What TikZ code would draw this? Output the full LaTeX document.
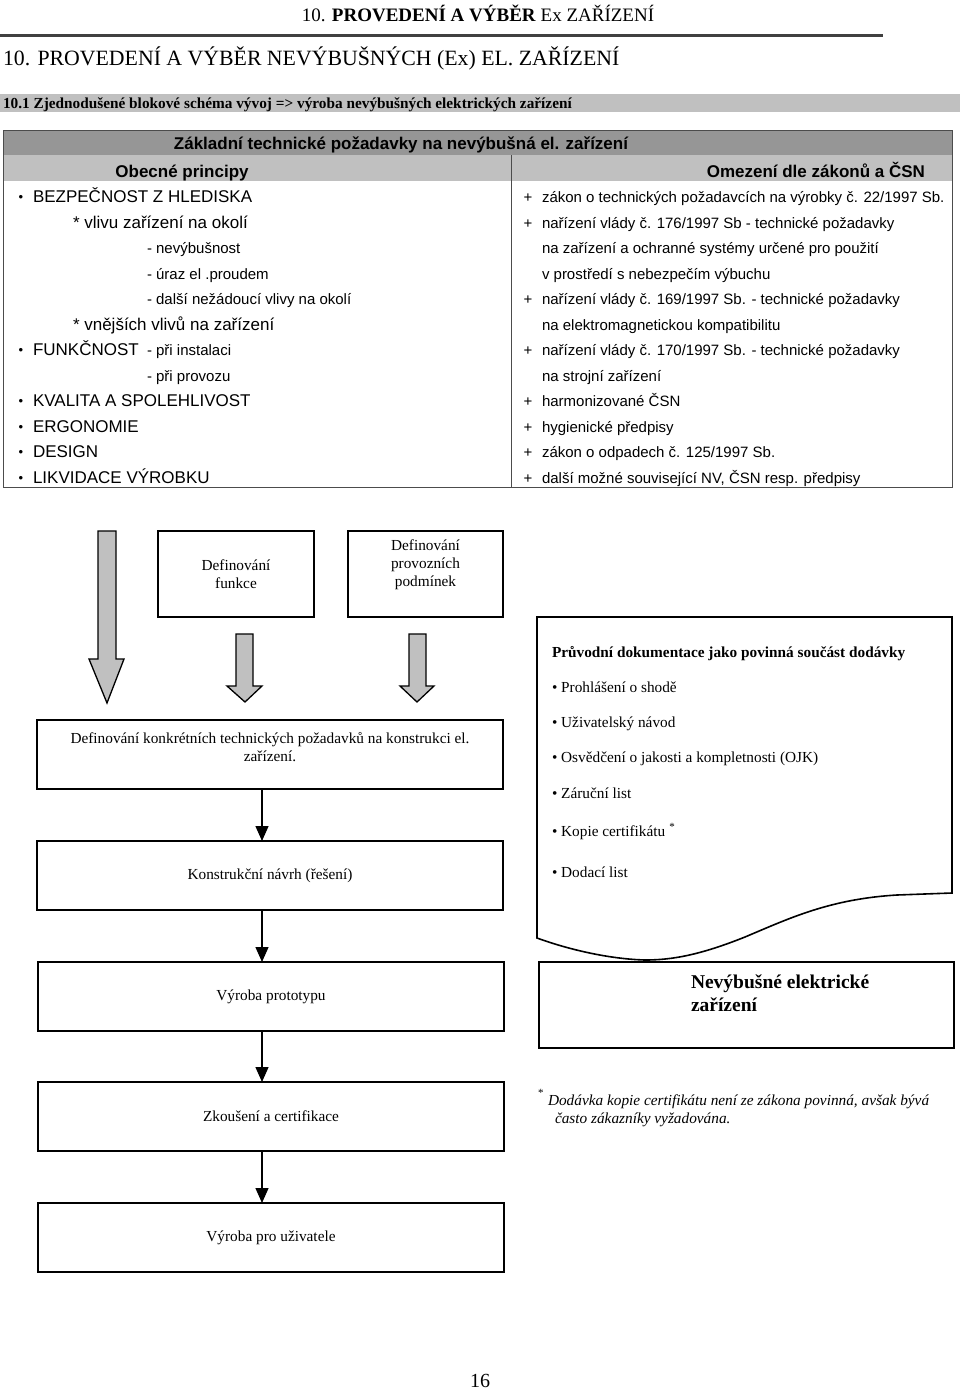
\documentclass[tikz,border=0pt]{standalone}
\usepackage{fontspec}
\setmainfont{Liberation Serif}
\newfontfamily\arial{Liberation Sans}
\usetikzlibrary{arrows.meta}
\definecolor{hdark}{RGB}{150,150,150}
\definecolor{hlight}{RGB}{192,192,192}
\definecolor{bargray}{RGB}{192,192,192}
\definecolor{arrgray}{RGB}{192,192,192}
\definecolor{rulegray}{RGB}{64,64,64}
\begin{document}
\begin{tikzpicture}[x=1pt,y=-1pt,
  every node/.style={inner sep=0pt, outer sep=0pt},
  A/.style={font=\arial\fontsize{17}{20}\selectfont, anchor=base west},
  Ab/.style={font=\arial\fontsize{13}{15}\selectfont, anchor=base},
  As/.style={font=\arial\fontsize{15}{18}\selectfont, anchor=base west},
  AB/.style={font=\arial\bfseries\fontsize{17}{20}\selectfont},
  T/.style={font=\fontsize{15.3}{18}\selectfont, align=center},
  D/.style={font=\fontsize{15.3}{18}\selectfont, anchor=base west},
  box/.style={draw, line width=1.6pt},
  tbl/.style={draw=black!70, line width=1pt},
  blockarrow/.style={fill=arrgray, draw=black, line width=1.3pt, line join=miter},
  conn/.style={line width=1.3pt, -{Triangle[length=15pt,width=13pt]}},
]
\useasboundingbox (0,0) rectangle (960,1390);

% ---------- page header ----------
\node[anchor=base] (hdr) at (478,21) {\fontsize{19}{22}\selectfont 10. \textbf{PROVEDENÍ A VÝBĚR} Ex ZAŘÍZENÍ};
\draw[rulegray, line width=3pt] (0,35) -- (883,35);
\node[anchor=base west] (title) at (3,65) {\fontsize{21.8}{26}\selectfont 10. PROVEDENÍ A VÝBĚR NEVÝBUŠNÝCH (Ex) EL. ZAŘÍZENÍ};
\fill[bargray] (0,94) rectangle (960,112);
\node[anchor=base west] (sub) at (3,108) {\fontsize{15.3}{17}\selectfont\bfseries 10.1 Zjednodušené blokové schéma vývoj => výroba nevýbušných elektrických zařízení};

% ---------- table ----------
\fill[hdark] (3,130) rectangle (952,155);
\fill[hlight] (3,155) rectangle (952,181);
\draw[tbl] (3,130) rectangle (952,487);
\draw[tbl] (511,155) -- (511,487);
\node[AB, anchor=base] (th1) at (401,149) {Základní technické požadavky na nevýbušná el. zařízení};
\node[AB, anchor=base] (th2) at (182,177) {Obecné principy};
\node[AB, anchor=base east] (th3) at (925,177) {Omezení dle zákonů a ČSN};

% left column
\node[Ab] (b1) at (21,201.5) {•};
\node[A] (l1) at (33,202.5) {BEZPEČNOST Z HLEDISKA};
\node[A] (l2) at (73,228) {* vlivu zařízení na okolí};
\node[As] (l3) at (147,253.5) {- nevýbušnost};
\node[As] (l4) at (147,279) {- úraz el .proudem};
\node[As] (l5) at (147,304.5) {- další nežádoucí vlivy na okolí};
\node[A] (l6) at (73,330) {* vnějších vlivů na zařízení};
\node[Ab] (b2) at (21,354.5) {•};
\node[A] (l7) at (33,355.5) {FUNKČNOST};
\node[As] (l7b) at (147,355.5) {- při instalaci};
\node[As] (l8) at (147,381) {- při provozu};
\node[Ab] (b3) at (21,405.5) {•};
\node[A] (l9) at (33,406.5) {KVALITA A SPOLEHLIVOST};
\node[Ab] (b4) at (21,431) {•};
\node[A] (l10) at (33,432) {ERGONOMIE};
\node[Ab] (b5) at (21,456.5) {•};
\node[A] (l11) at (33,457.5) {DESIGN};
\node[Ab] (b6) at (21,482) {•};
\node[A] (l12) at (33,483) {LIKVIDACE VÝROBKU};

% right column
\node[As, anchor=base] (p1) at (528,202.5) {+};
\node[As] (r1) at (542,202.5) {zákon o technických požadavcích na výrobky č. 22/1997 Sb.};
\node[As, anchor=base] (p2) at (528,228) {+};
\node[As] (r2) at (542,228) {nařízení vlády č. 176/1997 Sb - technické požadavky};
\node[As] (r3) at (542,253.5) {na zařízení a ochranné systémy určené pro použití};
\node[As] (r4) at (542,279) {v prostředí s nebezpečím výbuchu};
\node[As, anchor=base] (p5) at (528,304.5) {+};
\node[As] (r5) at (542,304.5) {nařízení vlády č. 169/1997 Sb. - technické požadavky};
\node[As] (r6) at (542,330) {na elektromagnetickou kompatibilitu};
\node[As, anchor=base] (p7) at (528,355.5) {+};
\node[As] (r7) at (542,355.5) {nařízení vlády č. 170/1997 Sb. - technické požadavky};
\node[As] (r8) at (542,381) {na strojní zařízení};
\node[As, anchor=base] (p9) at (528,406.5) {+};
\node[As] (r9) at (542,406.5) {harmonizované ČSN};
\node[As, anchor=base] (p10) at (528,432) {+};
\node[As] (r10) at (542,432) {hygienické předpisy};
\node[As, anchor=base] (p11) at (528,457.5) {+};
\node[As] (r11) at (542,457.5) {zákon o odpadech č. 125/1997 Sb.};
\node[As, anchor=base] (p12) at (528,483) {+};
\node[As] (r12) at (542,483) {další možné související NV, ČSN resp. předpisy};

% ---------- flowchart ----------
\node[box, T, minimum width=156pt, minimum height=86pt] (fun) at (236,574) {Definování\\funkce};
\node[box, minimum width=155pt, minimum height=86pt] (prov) at (425.5,574) {};
\node[T] (provt) at (425.5,565) {Definování\\provozních\\podmínek};

% block arrows
\draw[blockarrow] (98,531) -- (116,531) -- (116,659) -- (124,659) -- (107,703) -- (89,659) -- (98,659) -- cycle;
\draw[blockarrow] (236,634) -- (253,634) -- (253,686) -- (262,686) -- (245,702) -- (227,686) -- (236,686) -- cycle;
\draw[blockarrow] (409,634) -- (426,634) -- (426,686) -- (434,686) -- (417,702) -- (400,686) -- (409,686) -- cycle;

\node[box, minimum width=466pt, minimum height=69pt] (konk) at (270,754.5) {};
\node[T] (konkt) at (270,747.5) {Definování konkrétních technických požadavků na konstrukci el.\\zařízení.};
\node[box, T, minimum width=466pt, minimum height=69pt] (navrh) at (270,875.5) {Konstrukční návrh (řešení)};
\node[box, T, minimum width=466pt, minimum height=69pt] (proto) at (271,996.5) {Výroba prototypu};
\node[box, T, minimum width=466pt, minimum height=69pt] (zkous) at (271,1116.5) {Zkoušení a certifikace};
\node[box, T, minimum width=466pt, minimum height=69pt] (uziv) at (271,1237.5) {Výroba pro uživatele};

\coordinate (ax) at (262,0);
\draw[conn] (ax |- konk.south) -- (ax |- navrh.north);
\draw[conn] (ax |- navrh.south) -- (ax |- proto.north);
\draw[conn] (ax |- proto.south) -- (ax |- zkous.north);
\draw[conn] (ax |- zkous.south) -- (ax |- uziv.north);

% document shape
\draw[box, line join=miter] (537,617) coordinate (doctl) -- (952,617) -- (952,893) -- (897,895)
  .. controls (830,899) and (790,918) .. (745,937)
  .. controls (700,955) and (672,960) .. (645,960)
  .. controls (610,959) and (570,950) .. (537,938) -- cycle;
\node[D, font=\fontsize{15.3}{18}\selectfont\bfseries] (doct) at (552,657) {Průvodní dokumentace jako povinná součást dodávky};
\node[D] (d1) at (552,692) {• Prohlášení o shodě};
\node[D] (d2) at (552,727) {• Uživatelský návod};
\node[D] (d3) at (552,762) {• Osvědčení o jakosti a kompletnosti (OJK)};
\node[D] (d4) at (552,798) {• Záruční list};
\node[D] (d5) at (552,836) {• Kopie certifikátu\hspace{4pt}\raisebox{6pt}{\fontsize{11}{11}\selectfont *}};
\node[D] (d6) at (552,877) {• Dodací list};

\node[box, minimum width=415pt, minimum height=86pt] (nevyb) at (746.5,1005) {};
\node[anchor=west, align=left, font=\fontsize{19.5}{23}\selectfont\bfseries] (nevybt) at (691,993.5) {Nevýbušné elektrické\\zařízení};

% footnote
\node[anchor=base west, font=\fontsize{11}{11}\selectfont] (fns) at (538,1096) {*};
\node[anchor=base west, font=\fontsize{15.3}{18}\selectfont\itshape] (fn1) at (548,1105) {Dodávka kopie certifikátu není ze zákona povinná, avšak bývá};
\node[anchor=base west, font=\fontsize{15.3}{18}\selectfont\itshape] (fn2) at (555,1123) {často zákazníky vyžadována.};

% page number
\node[anchor=base, font=\fontsize{20}{22}\selectfont] (pg) at (480,1387) {16};
\end{tikzpicture}
\end{document}
